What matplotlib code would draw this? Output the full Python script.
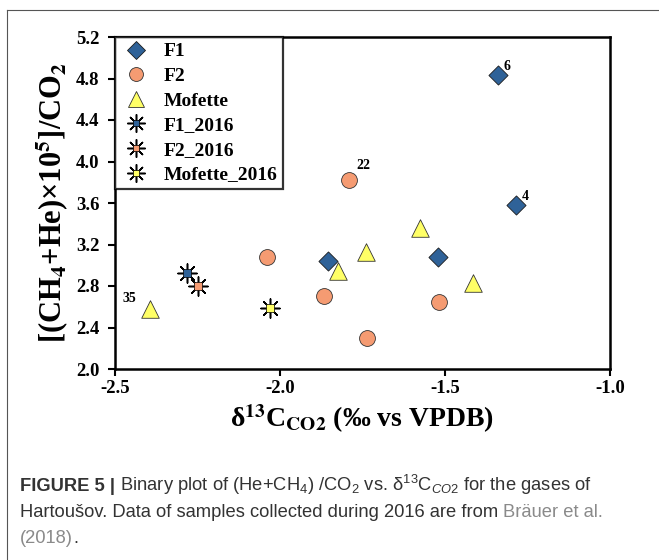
import matplotlib
matplotlib.use("Agg")
import matplotlib.pyplot as plt
from matplotlib.lines import Line2D
from matplotlib.legend_handler import HandlerTuple

plt.rcParams['axes.unicode_minus'] = False
plt.rcParams['mathtext.fontset'] = 'custom'
plt.rcParams['mathtext.rm'] = 'Liberation Sans'
plt.rcParams['mathtext.it'] = 'Liberation Sans:italic'
plt.rcParams['mathtext.bf'] = 'Liberation Sans:bold'

# ---- data ----
f1_x = [-1.34, -1.285, -1.855, -1.52]
f1_y = [4.83, 3.58, 3.04, 3.08]
f2_x = [-1.79, -2.04, -1.867, -1.736, -1.518]
f2_y = [3.82, 3.08, 2.70, 2.30, 2.65]
mof_x = [-2.394, -1.823, -1.74, -1.576, -1.416]
mof_y = [2.58, 2.94, 3.13, 3.36, 2.83]
f1_2016_x = [-2.281]
f1_2016_y = [2.93]
f2_2016_x = [-2.249]
f2_2016_y = [2.80]
mof_2016_x = [-2.029]
mof_2016_y = [2.59]
annot_text = ["6", "4", "22", "35"]
annot_x = [-1.34, -1.285, -1.79, -2.394]
annot_y = [4.83, 3.58, 3.82, 2.58]
xticks = [-2.5, -2.0, -1.5, -1.0]
yticks = [2.0, 2.4, 2.8, 3.2, 3.6, 4.0, 4.4, 4.8, 5.2]

c_f1 = '#2f6298'
c_f2 = '#f59b72'
c_mof = '#ffff66'

serif = 'Liberation Serif'

fig = plt.figure(figsize=(6.59, 5.60), dpi=100)
ax = fig.add_axes([115/659, 1-369/560, (610-115)/659, (369-37)/560])

ax.scatter(f1_x, f1_y, marker='D', s=95, c=c_f1, edgecolors='#1a1a1a', linewidths=0.6, zorder=3)
ax.scatter(f2_x, f2_y, marker='o', s=130, c=c_f2, edgecolors='#333333', linewidths=0.6, zorder=3)
ax.scatter(mof_x, mof_y, marker='^', s=160, c=c_mof, edgecolors='#333333', linewidths=0.6, zorder=3)

def star(xs, ys, col):
    ax.scatter(xs, ys, marker=(8, 2, 0), s=190, c='black', linewidths=1.1, zorder=4)
    ax.scatter(xs, ys, marker='s', s=32, c=col, edgecolors='black', linewidths=0.5, zorder=5)

star(f1_2016_x, f1_2016_y, c_f1)
star(f2_2016_x, f2_2016_y, c_f2)
star(mof_2016_x, mof_2016_y, c_mof)

offs = [(4, 4), (4, 4), (5, 8), (-20, 5)]
for t, x, y, o in zip(annot_text, annot_x, annot_y, offs):
    ax.annotate(t, (x, y), xytext=o, textcoords='offset points', fontsize=10,
                fontweight='bold', family=serif)

ax.set_xlim(-2.5, -1.0)
ax.set_ylim(2.0, 5.2)
ax.set_xticks(xticks)
ax.set_yticks(yticks)
ax.set_xticklabels([f"{v:.1f}" for v in xticks])
ax.set_yticklabels([f"{v:.1f}" for v in yticks])
for lab in ax.get_xticklabels() + ax.get_yticklabels():
    lab.set_family(serif)
    lab.set_fontweight('bold')
    lab.set_fontsize(13.5)
ax.tick_params(direction='out', length=5, width=1.5, pad=3)
ax.tick_params(axis='y', pad=6)
for s in ax.spines.values():
    s.set_linewidth(1.8)

ax.set_ylabel(r"[(CH$_\mathbf{4}$+He)×10$^\mathbf{5}$]/CO$_\mathbf{2}$",
              fontsize=22, fontweight='bold', family=serif, math_fontfamily='stix', labelpad=4)
ax.set_xlabel(r"δ$^\mathbf{13}$C$_\mathbf{CO2}$ (‰ vs VPDB)",
              fontsize=20, fontweight='bold', family=serif, math_fontfamily='stix', labelpad=4)

# legend
h_f1 = Line2D([], [], marker='D', ls='', ms=9, mfc=c_f1, mec='#1a1a1a', mew=0.6)
h_f2 = Line2D([], [], marker='o', ls='', ms=10, mfc=c_f2, mec='#333333', mew=0.6)
h_mof = Line2D([], [], marker='^', ls='', ms=11, mfc=c_mof, mec='#333333', mew=0.6)
def star_h(col):
    return (Line2D([], [], marker=(8, 2, 0), ls='', ms=13, mec='black', mew=1.1),
            Line2D([], [], marker='s', ls='', ms=5, mfc=col, mec='black', mew=0.5))
handles = [h_f1, h_f2, h_mof, star_h(c_f1), star_h(c_f2), star_h(c_mof)]
labels = ['F1', 'F2', 'Mofette', 'F1_2016', 'F2_2016', 'Mofette_2016']
leg = ax.legend(handles, labels, loc='upper left', handler_map={tuple: HandlerTuple(ndivide=1, pad=0)},
                prop={'family': serif, 'weight': 'bold', 'size': 14}, frameon=True, fancybox=False,
                borderaxespad=0, handletextpad=0.6, labelspacing=0.36, borderpad=0.3, handlelength=1.6)
leg.get_frame().set_edgecolor('black')
leg.get_frame().set_linewidth(1.6)

# page frame
fig.add_artist(Line2D([7/659, 7/659], [0, 1-10/560], color='#555555', lw=0.8))
fig.add_artist(Line2D([7/659, 1], [1-10/560, 1-10/560], color='#555555', lw=0.8))

# caption
dark = '#333333'
gray = '#8a8a8a'
cap_fs = 13.2
fig.canvas.draw()
renderer = fig.canvas.get_renderer()

def write_line(pieces, x0, y0):
    x = x0
    for txt, col, w in pieces:
        t = fig.text(x, y0, txt, color=col, fontsize=cap_fs, family='Liberation Sans',
                     fontweight=w, math_fontfamily='custom', va='baseline', ha='left')
        bb = t.get_window_extent(renderer)
        x += bb.width / fig.bbox.width

write_line([("FIGURE 5 |", dark, 'bold'),
            (r" Binary plot of (He+CH$_4$) /CO$_2$ vs. δ$^{13}$C$_{\mathit{CO2}}$ for the gases of", dark, 'normal')],
           20/659, 1-491/560)
write_line([("Hartoušov. Data of samples collected during 2016 are from ", dark, 'normal'),
            ("Bräuer et al.", gray, 'normal')], 20/659, 1-517/560)
write_line([("(2018)", gray, 'normal'), (".", dark, 'normal')], 20/659, 1-543/560)

fig.savefig('out.png', dpi=100)
